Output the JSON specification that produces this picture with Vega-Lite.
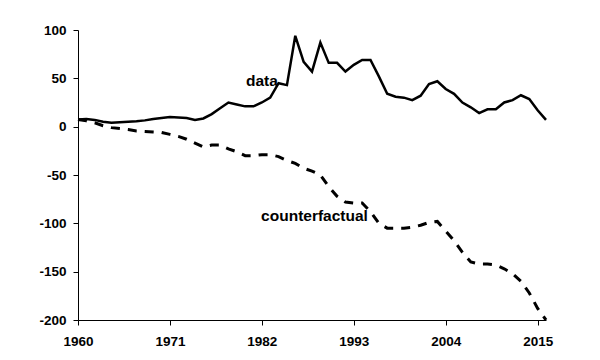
{
  "$schema": "https://vega.github.io/schema/vega-lite/v6.json",
  "width": 468,
  "height": 290,
  "autosize": {"type": "none"},
  "padding": {"left": 78, "top": 30, "right": 54, "bottom": 40},
  "background": "white",
  "config": {
    "view": {"stroke": null},
    "axis": {
      "grid": false,
      "domainColor": "black",
      "domainWidth": 1,
      "tickColor": "black",
      "tickSize": 5,
      "labelColor": "black",
      "labelFont": "Liberation Sans",
      "labelFontWeight": "bold",
      "labelFontSize": 13.5,
      "labelExpr": "'' + datum.value",
      "title": null
    }
  },
  "datasets": {
    "series": [
      {"year": 1960, "series": "data", "value": 7.5},
      {"year": 1961, "series": "data", "value": 8},
      {"year": 1962, "series": "data", "value": 7},
      {"year": 1963, "series": "data", "value": 5},
      {"year": 1964, "series": "data", "value": 4},
      {"year": 1965, "series": "data", "value": 4.5},
      {"year": 1966, "series": "data", "value": 5},
      {"year": 1967, "series": "data", "value": 5.5},
      {"year": 1968, "series": "data", "value": 6.5},
      {"year": 1969, "series": "data", "value": 8},
      {"year": 1970, "series": "data", "value": 9},
      {"year": 1971, "series": "data", "value": 10},
      {"year": 1972, "series": "data", "value": 9.5},
      {"year": 1973, "series": "data", "value": 9},
      {"year": 1974, "series": "data", "value": 7},
      {"year": 1975, "series": "data", "value": 8.5},
      {"year": 1976, "series": "data", "value": 13},
      {"year": 1977, "series": "data", "value": 19},
      {"year": 1978, "series": "data", "value": 25},
      {"year": 1979, "series": "data", "value": 23},
      {"year": 1980, "series": "data", "value": 21},
      {"year": 1981, "series": "data", "value": 21},
      {"year": 1982, "series": "data", "value": 25},
      {"year": 1983, "series": "data", "value": 30},
      {"year": 1984, "series": "data", "value": 45},
      {"year": 1985, "series": "data", "value": 43},
      {"year": 1986, "series": "data", "value": 94},
      {"year": 1987, "series": "data", "value": 67},
      {"year": 1988, "series": "data", "value": 57},
      {"year": 1989, "series": "data", "value": 87},
      {"year": 1990, "series": "data", "value": 66},
      {"year": 1991, "series": "data", "value": 66},
      {"year": 1992, "series": "data", "value": 57},
      {"year": 1993, "series": "data", "value": 64},
      {"year": 1994, "series": "data", "value": 69},
      {"year": 1995, "series": "data", "value": 69},
      {"year": 1996, "series": "data", "value": 52},
      {"year": 1997, "series": "data", "value": 34},
      {"year": 1998, "series": "data", "value": 31},
      {"year": 1999, "series": "data", "value": 30},
      {"year": 2000, "series": "data", "value": 27.5},
      {"year": 2001, "series": "data", "value": 32},
      {"year": 2002, "series": "data", "value": 44},
      {"year": 2003, "series": "data", "value": 47},
      {"year": 2004, "series": "data", "value": 39},
      {"year": 2005, "series": "data", "value": 34},
      {"year": 2006, "series": "data", "value": 25},
      {"year": 2007, "series": "data", "value": 20},
      {"year": 2008, "series": "data", "value": 14},
      {"year": 2009, "series": "data", "value": 18},
      {"year": 2010, "series": "data", "value": 18},
      {"year": 2011, "series": "data", "value": 25},
      {"year": 2012, "series": "data", "value": 27.5},
      {"year": 2013, "series": "data", "value": 32.5},
      {"year": 2014, "series": "data", "value": 28.5},
      {"year": 2015, "series": "data", "value": 17},
      {"year": 2016, "series": "data", "value": 7},
      {"year": 1960, "series": "counterfactual", "value": 7.5},
      {"year": 1961, "series": "counterfactual", "value": 6},
      {"year": 1962, "series": "counterfactual", "value": 4},
      {"year": 1963, "series": "counterfactual", "value": 1},
      {"year": 1964, "series": "counterfactual", "value": -1},
      {"year": 1965, "series": "counterfactual", "value": -2},
      {"year": 1966, "series": "counterfactual", "value": -3},
      {"year": 1967, "series": "counterfactual", "value": -4.5},
      {"year": 1968, "series": "counterfactual", "value": -5},
      {"year": 1969, "series": "counterfactual", "value": -5.5},
      {"year": 1970, "series": "counterfactual", "value": -6},
      {"year": 1971, "series": "counterfactual", "value": -8},
      {"year": 1972, "series": "counterfactual", "value": -10},
      {"year": 1973, "series": "counterfactual", "value": -13},
      {"year": 1974, "series": "counterfactual", "value": -17},
      {"year": 1975, "series": "counterfactual", "value": -21},
      {"year": 1976, "series": "counterfactual", "value": -19},
      {"year": 1977, "series": "counterfactual", "value": -19},
      {"year": 1978, "series": "counterfactual", "value": -23},
      {"year": 1979, "series": "counterfactual", "value": -26},
      {"year": 1980, "series": "counterfactual", "value": -30},
      {"year": 1981, "series": "counterfactual", "value": -30},
      {"year": 1982, "series": "counterfactual", "value": -29},
      {"year": 1983, "series": "counterfactual", "value": -29},
      {"year": 1984, "series": "counterfactual", "value": -31},
      {"year": 1985, "series": "counterfactual", "value": -35},
      {"year": 1986, "series": "counterfactual", "value": -38},
      {"year": 1987, "series": "counterfactual", "value": -43},
      {"year": 1988, "series": "counterfactual", "value": -46},
      {"year": 1989, "series": "counterfactual", "value": -50},
      {"year": 1990, "series": "counterfactual", "value": -62},
      {"year": 1991, "series": "counterfactual", "value": -72},
      {"year": 1992, "series": "counterfactual", "value": -78},
      {"year": 1993, "series": "counterfactual", "value": -79},
      {"year": 1994, "series": "counterfactual", "value": -79},
      {"year": 1995, "series": "counterfactual", "value": -88},
      {"year": 1996, "series": "counterfactual", "value": -100},
      {"year": 1997, "series": "counterfactual", "value": -105},
      {"year": 1998, "series": "counterfactual", "value": -105},
      {"year": 1999, "series": "counterfactual", "value": -105},
      {"year": 2000, "series": "counterfactual", "value": -104},
      {"year": 2001, "series": "counterfactual", "value": -102},
      {"year": 2002, "series": "counterfactual", "value": -99},
      {"year": 2003, "series": "counterfactual", "value": -98},
      {"year": 2004, "series": "counterfactual", "value": -108},
      {"year": 2005, "series": "counterfactual", "value": -118},
      {"year": 2006, "series": "counterfactual", "value": -130},
      {"year": 2007, "series": "counterfactual", "value": -140},
      {"year": 2008, "series": "counterfactual", "value": -142},
      {"year": 2009, "series": "counterfactual", "value": -142},
      {"year": 2010, "series": "counterfactual", "value": -143},
      {"year": 2011, "series": "counterfactual", "value": -147},
      {"year": 2012, "series": "counterfactual", "value": -152},
      {"year": 2013, "series": "counterfactual", "value": -160},
      {"year": 2014, "series": "counterfactual", "value": -172},
      {"year": 2015, "series": "counterfactual", "value": -188},
      {"year": 2016, "series": "counterfactual", "value": -200}
    ],
    "labels": [
      {"label": "data", "year": 1982, "value": 47},
      {"label": "counterfactual", "year": 1988.3, "value": -92.5}
    ]
  },
  "layer": [
    {
      "data": {"name": "series"},
      "transform": [{"filter": "datum.series === 'counterfactual'"}],
      "mark": {"type": "line", "color": "black", "strokeWidth": 3, "strokeDash": [9, 8], "strokeCap": "butt"},
      "encoding": {
        "x": {"field": "year", "type": "quantitative", "scale": {"domain": [1960, 2016], "nice": false, "zero": false},
          "axis": {"values": [1960, 1971, 1982, 1993, 2004, 2015], "labelPadding": 9, "labelFlush": false}},
        "y": {"field": "value", "type": "quantitative", "scale": {"domain": [-200, 100], "nice": false},
          "axis": {"values": [-200, -150, -100, -50, 0, 50, 100], "labelPadding": 7}}
      }
    },
    {
      "data": {"name": "series"},
      "transform": [{"filter": "datum.series === 'data'"}],
      "mark": {"type": "line", "color": "black", "strokeWidth": 2.5},
      "encoding": {
        "x": {"field": "year", "type": "quantitative"},
        "y": {"field": "value", "type": "quantitative"}
      }
    },
    {
      "mark": {"type": "rule", "color": "black", "strokeWidth": 2},
      "encoding": {"y": {"datum": 0}}
    },
    {
      "data": {"name": "labels"},
      "mark": {"type": "text", "font": "Liberation Sans", "fontWeight": "bold", "fontSize": 15.5, "color": "black", "align": "center", "baseline": "middle"},
      "encoding": {
        "x": {"field": "year", "type": "quantitative"},
        "y": {"field": "value", "type": "quantitative"},
        "text": {"field": "label"}
      }
    }
  ]
}
